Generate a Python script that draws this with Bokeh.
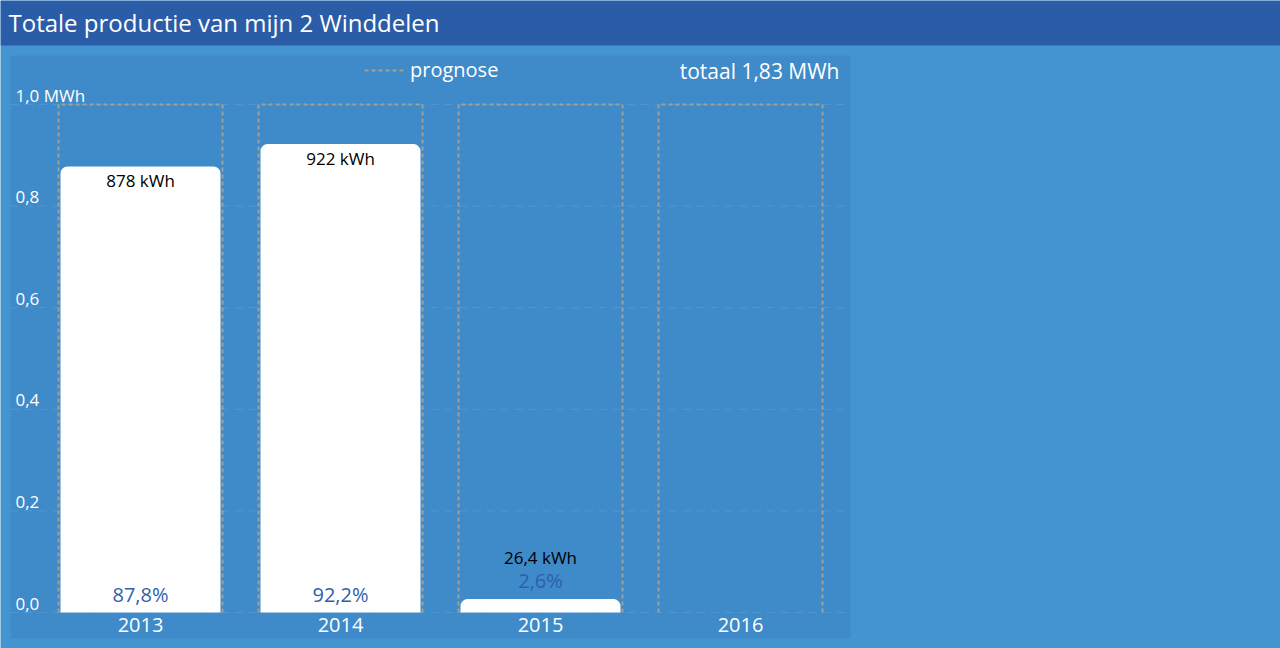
from bokeh.plotting import figure
from bokeh.models import Range1d, BoxAnnotation, Label, Legend, LegendItem, ColumnDataSource
from bokeh.core.properties import value
from bokeh.embed import file_html
from bokeh.resources import INLINE

# ---- data ----
title_text = "Totale productie van mijn 2 Winddelen"
years = ["2013", "2014", "2015", "2016"]
production_kwh = [878, 922, 26.4, 0]
prognose_kwh = [1000, 1000, 1000, 1000]
y_ticks = [0.0, 0.2, 0.4, 0.6, 0.8, 1.0]
y_tick_labels = ["0,0", "0,2", "0,4", "0,6", "0,8", "1,0 MWh"]
legend_label = "prognose"

# ---- helpers (reference pixel -> data) ----
W, H = 1280, 648
CAT_PX = 200.0
MWH_PX = 508.0
def dx(px):
    return (px - 140.0) / CAT_PX
def dy(py):
    return (612.0 - py) / MWH_PX
def px_y(n):
    return n / MWH_PX

FONT_NAME = "Open Sans"
FONT = value(FONT_NAME)
WHITE = "#ffffff"
TITLE_BG = "#2b5ca8"
OUTER_BG = "#4494d0"
PANEL_BG = "#3f8ac8"
PCT_COL = "#2e5fae"
PROG_COL = "#a39e96"

def fmt_num(v, dec):
    s = f"{v:.{dec}f}"
    return s.replace(".", ",")

p = figure(width=W, height=H, x_range=Range1d(dx(0), dx(W)), y_range=Range1d(dy(H), dy(0)),
           x_axis_type=None, y_axis_type=None, min_border=0, toolbar_location=None,
           output_backend="svg", background_fill_color=OUTER_BG, border_fill_color=OUTER_BG,
           outline_line_color=None)
p.grid.visible = False

# background areas
p.add_layout(BoxAnnotation(bottom=dy(45), fill_color=TITLE_BG, fill_alpha=1, line_color=None, level="underlay"))
p.add_layout(BoxAnnotation(left=dx(10), right=dx(850), bottom=dy(638), top=dy(55),
                           fill_color=PANEL_BG, fill_alpha=1, line_color=None, level="underlay"))

# grid lines
p.segment(x0=[dx(10)] * len(y_ticks), x1=[dx(850)] * len(y_ticks), y0=y_ticks, y1=y_ticks,
          line_color="#5fa3db", line_alpha=0.55, line_width=1, line_dash="8 6")

xs_idx = list(range(len(years)))
prog_mwh = [v / 1000.0 for v in prognose_kwh]
prod_mwh = [v / 1000.0 for v in production_kwh]

# prognose boxes (open at bottom)
hw = 0.41
box_xs = [[i - hw, i - hw, i + hw, i + hw] for i in xs_idx]
box_ys = [[0, t, t, 0] for t in prog_mwh]
prog_r = p.multi_line(xs=box_xs, ys=box_ys, line_color=PROG_COL, line_width=2, line_dash="4 3")

# production bars
src = ColumnDataSource(dict(x=xs_idx, top=prod_mwh))
p.vbar(x="x", top="top", bottom=0, width=0.8, source=src, fill_color=WHITE, line_color=None,
       border_radius=(7, 7, 0, 0))

# value labels
kwh_x, kwh_y, kwh_t, pct_x, pct_y, pct_t = [], [], [], [], [], []
for i, (v, pr) in enumerate(zip(production_kwh, prognose_kwh)):
    if v <= 0:
        continue
    top = v / 1000.0
    dec = 0 if float(v).is_integer() else 1
    kwh_t.append(f"{fmt_num(v, dec)} kWh")
    pct_t.append(f"{fmt_num(100.0 * v / pr, 1)}%")
    kwh_x.append(i)
    pct_x.append(i)
    if top * MWH_PX > 60:
        kwh_y.append(top - px_y(14))
        pct_y.append(px_y(18))
    else:
        kwh_y.append(top + px_y(42))
        pct_y.append(top + px_y(19))
p.text(x=kwh_x, y=kwh_y, text=kwh_t, text_align="center", text_baseline="middle",
       text_color="#000000", text_font=FONT, text_font_size="17px")
p.text(x=pct_x, y=pct_y, text=pct_t, text_align="center", text_baseline="middle",
       text_color=PCT_COL, text_font=FONT, text_font_size="20px")

# y tick labels
p.text(x=[dx(15)] * len(y_ticks), y=[t + px_y(9) for t in y_ticks], text=y_tick_labels,
       text_align="left", text_baseline="middle", text_color=WHITE, text_font=FONT,
       text_font_size="17px")

# x category labels
p.text(x=xs_idx, y=[-px_y(12)] * len(years), text=years, text_align="center", text_baseline="middle",
       text_color=WHITE, text_font=FONT, text_font_size="20px")

# title
p.add_layout(Label(x=dx(8), y=dy(22), text=title_text, text_align="left", text_baseline="middle",
                   text_color=WHITE, text_font=FONT_NAME, text_font_size="24px"))

# total
total_mwh = sum(production_kwh) / 1000.0
p.add_layout(Label(x=dx(839), y=dy(70), text=f"totaal {fmt_num(total_mwh, 2)} MWh", text_align="right",
                   text_baseline="middle", text_color=WHITE, text_font=FONT_NAME, text_font_size="21px"))

# legend
legend = Legend(items=[LegendItem(label=legend_label, renderers=[prog_r])],
                location=(364, H - 70 - 13), orientation="horizontal",
                glyph_width=42, glyph_height=26, label_height=26, label_standoff=4,
                label_text_color=WHITE, label_text_font=FONT_NAME, label_text_font_size="20px",
                background_fill_alpha=0, border_line_color=None, padding=0, margin=0, spacing=0)
p.add_layout(legend)

open("out.html", "w").write(file_html(p, INLINE))
